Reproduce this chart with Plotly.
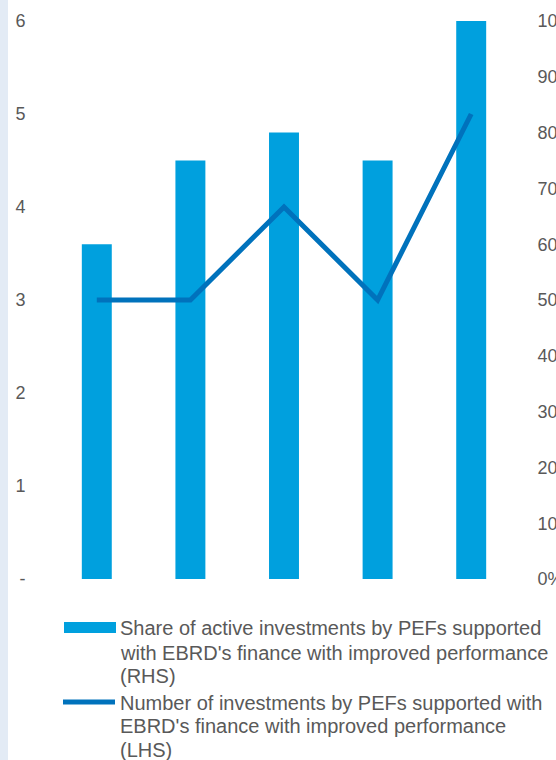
import plotly.graph_objects as go

# ---- data ----
categories = ["Period 1", "Period 2", "Period 3", "Period 4", "Period 5"]
share_improved = [0.60, 0.75, 0.80, 0.75, 1.00]   # RHS, bars
number_improved = [3, 3, 4, 3, 5]                  # LHS, line
left_tickvals = [0, 1, 2, 3, 4, 5, 6]
left_ticktext = ["-", "1", "2", "3", "4", "5", "6"]
right_tickvals = [0, 0.1, 0.2, 0.3, 0.4, 0.5, 0.6, 0.7, 0.8, 0.9, 1.0]
legend_bar_lines = ["Share of active investments by PEFs supported",
                    "with EBRD's finance with improved performance",
                    "(RHS)"]
legend_line_lines = ["Number of investments by PEFs supported with",
                     "EBRD's finance with improved performance",
                     "(LHS)"]

BAR_COLOR = "#00A0DE"
LINE_COLOR = "#0072BC"
TEXT_COLOR = "#595959"
FONT = "Liberation Sans, Arial, sans-serif"

W, H = 556, 760
L, R, T, B = 50, 38, 21, 181
PW = W - L - R
PH = H - T - B


def px_x(x):
    return (x - L) / PW


def px_y(y):
    return (H - B - y) / PH


fig = go.Figure()
fig.add_trace(go.Bar(
    x=categories, y=share_improved, yaxis="y",
    marker=dict(color=BAR_COLOR, line=dict(width=0)),
    name="Share of active investments by PEFs supported with EBRD's finance with improved performance (RHS)",
    showlegend=False,
))
fig.add_trace(go.Scatter(
    x=categories, y=number_improved, yaxis="y2", mode="lines",
    line=dict(color=LINE_COLOR, width=5),
    name="Number of investments by PEFs supported with EBRD's finance with improved performance (LHS)",
    showlegend=False,
))

shapes = [
    # light strip at the left edge
    dict(type="rect", xref="paper", yref="paper",
         x0=px_x(0), x1=px_x(8), y0=px_y(H), y1=px_y(0),
         fillcolor="#E3EBF5", line=dict(width=0), layer="below"),
    # legend symbols
    dict(type="rect", xref="paper", yref="paper",
         x0=px_x(64), x1=px_x(116), y0=px_y(633), y1=px_y(622),
         fillcolor=BAR_COLOR, line=dict(width=0)),
    dict(type="line", xref="paper", yref="paper",
         x0=px_x(63), x1=px_x(115), y0=px_y(702), y1=px_y(702),
         line=dict(color=LINE_COLOR, width=5)),
]

annotations = []
for txt, yc in zip(legend_bar_lines + legend_line_lines,
                   [628, 653, 676, 703, 726, 750]):
    annotations.append(dict(
        xref="paper", yref="paper", x=px_x(118), y=px_y(yc),
        xanchor="left", yanchor="middle", align="left", showarrow=False,
        text=txt, font=dict(family=FONT, size=20, color=TEXT_COLOR)))

fig.update_layout(
    width=W, height=H,
    margin=dict(l=L, r=R, t=T, b=B, autoexpand=False),
    paper_bgcolor="white", plot_bgcolor="white",
    font=dict(family=FONT, size=18, color=TEXT_COLOR),
    bargap=0.68,
    showlegend=False,
    xaxis=dict(showticklabels=False, showgrid=False, zeroline=False,
               showline=False, ticks="", automargin=False),
    yaxis=dict(side="right", range=[0, 1], tickvals=right_tickvals,
               tickformat=".0%", showgrid=False, zeroline=False, showline=False,
               ticks="outside", ticklen=15, tickcolor="rgba(0,0,0,0)",
               automargin=False, ticklabeloverflow="allow"),
    yaxis2=dict(side="left", overlaying="y", range=[0, 6],
                tickvals=left_tickvals, ticktext=left_ticktext,
                showgrid=False, zeroline=False, showline=False,
                ticks="outside", ticklen=20, tickcolor="rgba(0,0,0,0)",
                automargin=False, ticklabeloverflow="allow"),
    shapes=shapes,
    annotations=annotations,
)

fig.write_html("out.html", config={"displayModeBar": False},
               post_script="document.body.style.margin='0';document.body.style.overflow='hidden';")
